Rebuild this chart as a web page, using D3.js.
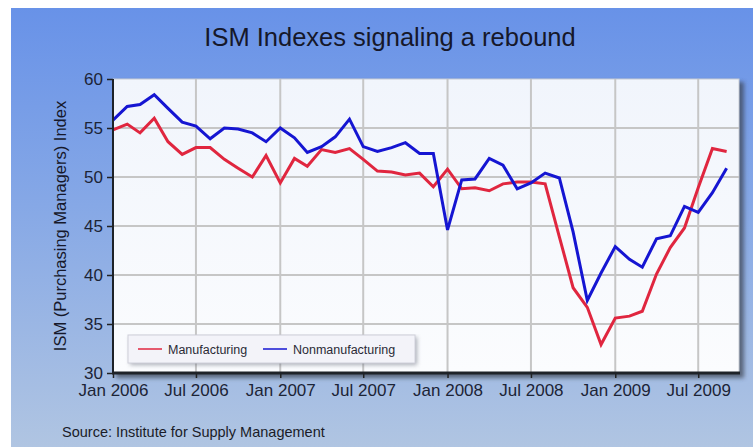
<!DOCTYPE html>
<html>
<head>
<meta charset="utf-8">
<script src="https://cdn.jsdelivr.net/npm/d3@7"></script>
<style>
  body { margin: 0; background: #fff; }
  svg { display: block; font-family: "Liberation Sans", Arial, sans-serif; }
</style>
</head>
<body>
<svg id="chart" width="753" height="448"></svg>
<script>
// monthly index values, Jan 2006 .. Sep 2009
const manufacturing = [
  54.8, 55.4, 54.5, 56.0, 53.6, 52.3, 53.0, 53.0, 51.8, 50.9, 50.0, 52.2,
  49.4, 51.9, 51.1, 52.8, 52.5, 52.9, 51.8, 50.6, 50.5, 50.2, 50.4, 49.0,
  50.8, 48.8, 48.9, 48.6, 49.3, 49.5, 49.5, 49.3, 43.9, 38.7, 36.7, 32.9,
  35.6, 35.8, 36.3, 40.1, 42.8, 44.8, 48.9, 52.9, 52.6
];
const nonmanufacturing = [
  55.8, 57.2, 57.4, 58.4, 57.0, 55.6, 55.2, 53.9, 55.0, 54.9, 54.5, 53.6,
  55.0, 54.0, 52.5, 53.1, 54.1, 55.9, 53.1, 52.6, 53.0, 53.5, 52.4, 52.4,
  44.6, 49.7, 49.8, 51.9, 51.2, 48.8, 49.4, 50.4, 49.9, 44.4, 37.4, 40.2,
  42.9, 41.6, 40.8, 43.7, 44.0, 47.0, 46.4, 48.4, 50.9
];
const tickLabels = ["Jan 2006", "Jul 2006", "Jan 2007", "Jul 2007",
  "Jan 2008", "Jul 2008", "Jan 2009", "Jul 2009"];
const yTicks = [30, 35, 40, 45, 50, 55, 60];
const seriesNames = ["Manufacturing", "Nonmanufacturing"];
const seriesColors = ["#e0263f", "#1515d2"];

const months = d3.timeMonth.range(new Date(2006, 0, 1), new Date(2009, 9, 1));
const parseTick = d3.timeParse("%b %Y");
const tickDates = tickLabels.map(parseTick);

const svg = d3.select("#chart");
const W = 753, H = 448;
const plotL = 113, plotR = 739, plotT = 79, plotB = 373;

const defs = svg.append("defs");
const bg = defs.append("linearGradient").attr("id", "bg")
  .attr("x1", 0).attr("y1", 0).attr("x2", 0).attr("y2", 1);
bg.append("stop").attr("offset", "0%").attr("stop-color", "#6892e8");
bg.append("stop").attr("offset", "45%").attr("stop-color", "#86a8e6");
bg.append("stop").attr("offset", "100%").attr("stop-color", "#b0c5e2");

const plotBg = defs.append("linearGradient").attr("id", "plotbg")
  .attr("x1", 0).attr("y1", 0).attr("x2", 0).attr("y2", 1);
plotBg.append("stop").attr("offset", "0%").attr("stop-color", "#f1f5fc");
plotBg.append("stop").attr("offset", "100%").attr("stop-color", "#fbfcfe");

const shadow = defs.append("filter").attr("id", "shadow")
  .attr("x", "-10%").attr("y", "-10%").attr("width", "120%").attr("height", "130%");
shadow.append("feGaussianBlur").attr("stdDeviation", 2);

// outer panel
svg.append("rect").attr("x", 11).attr("y", 8)
  .attr("width", W - 11).attr("height", 439).attr("fill", "url(#bg)");

// title
svg.append("text").attr("x", 390).attr("y", 46)
  .attr("text-anchor", "middle").attr("font-size", 25.5).attr("fill", "#16182a")
  .text("ISM Indexes signaling a rebound");

const x = d3.scaleTime()
  .domain([new Date(2006, 0, 1), new Date(2009, 8, 28)])
  .range([plotL, plotR]);
const y = d3.scaleLinear().domain([30, 60]).range([plotB, plotT]);

// plot frame with shadow
svg.append("rect").attr("x", plotL + 3).attr("y", plotT + 3)
  .attr("width", plotR - plotL + 2).attr("height", plotB - plotT + 2)
  .attr("fill", "#3a4250").attr("opacity", 0.7).attr("filter", "url(#shadow)");
svg.append("rect").attr("x", plotL).attr("y", plotT)
  .attr("width", plotR - plotL).attr("height", plotB - plotT)
  .attr("fill", "url(#plotbg)").attr("stroke", "#c8ccd4").attr("stroke-width", 1);

// grid
const grid = svg.append("g").attr("stroke", "#c6c6c6").attr("stroke-width", 2);
grid.selectAll("line.h").data(yTicks.slice(1, -1)).join("line")
  .attr("class", "h")
  .attr("x1", plotL).attr("x2", plotR)
  .attr("y1", d => y(d)).attr("y2", d => y(d));
grid.selectAll("line.v").data(tickDates.slice(1)).join("line")
  .attr("class", "v")
  .attr("y1", plotT).attr("y2", plotB)
  .attr("x1", d => x(d)).attr("x2", d => x(d));

// series
const line = d3.line().x((d, i) => x(months[i])).y(d => y(d));
[manufacturing, nonmanufacturing].forEach((s, k) => {
  svg.append("path").datum(s)
    .attr("fill", "none")
    .attr("stroke", seriesColors[k])
    .attr("stroke-width", 3)
    .attr("stroke-linejoin", "miter")
    .attr("d", line);
});

// axes
const yAxis = svg.append("g").attr("transform", `translate(${plotL},0)`)
  .call(d3.axisLeft(y).tickValues(yTicks).tickSize(6).tickPadding(4));
const xAxis = svg.append("g").attr("transform", `translate(0,${plotB})`)
  .call(d3.axisBottom(x).tickValues(tickDates)
    .tickFormat((d, i) => tickLabels[i]).tickSize(5).tickPadding(6));
[yAxis, xAxis].forEach(g => {
  g.select(".domain").remove();
  g.selectAll(".tick line").attr("stroke", "#222").attr("stroke-width", 1.5);
  g.selectAll(".tick text").attr("fill", "#1c2436")
    .attr("font-size", 17).attr("font-family", "Liberation Sans, Arial, sans-serif");
});
svg.append("line").attr("x1", plotL).attr("x2", plotL)
  .attr("y1", plotT).attr("y2", plotB + 1)
  .attr("stroke", "#1e2228").attr("stroke-width", 2);
svg.append("line").attr("x1", plotL - 1).attr("x2", plotR + 1)
  .attr("y1", plotB).attr("y2", plotB)
  .attr("stroke", "#1e2228").attr("stroke-width", 3);

// y title
svg.append("text")
  .attr("transform", "translate(66,226) rotate(-90)")
  .attr("text-anchor", "middle").attr("font-size", 16.5).attr("fill", "#16182a")
  .text("ISM (Purchasing Managers) Index");

// legend
const lg = svg.append("g");
lg.append("rect").attr("x", 130).attr("y", 337).attr("width", 287).attr("height", 28)
  .attr("fill", "#5a6070").attr("opacity", 0.5).attr("filter", "url(#shadow)");
lg.append("rect").attr("x", 128).attr("y", 335).attr("width", 287).attr("height", 28)
  .attr("fill", "#f3f3f9").attr("stroke", "#cfd0da");
const legendX = [138, 263];
seriesNames.forEach((name, k) => {
  lg.append("line").attr("x1", legendX[k]).attr("x2", legendX[k] + 24)
    .attr("y1", 349).attr("y2", 349)
    .attr("stroke", seriesColors[k]).attr("stroke-opacity", 0.75).attr("stroke-width", 2);
  lg.append("text").attr("x", legendX[k] + 30).attr("y", 353.5)
    .attr("font-size", 12.5).attr("fill", "#2a2a36").text(name);
});

// source
svg.append("text").attr("x", 62).attr("y", 437)
  .attr("font-size", 14.5).attr("fill", "#1a1c28")
  .text("Source: Institute for Supply Management");
</script>
</body>
</html>
